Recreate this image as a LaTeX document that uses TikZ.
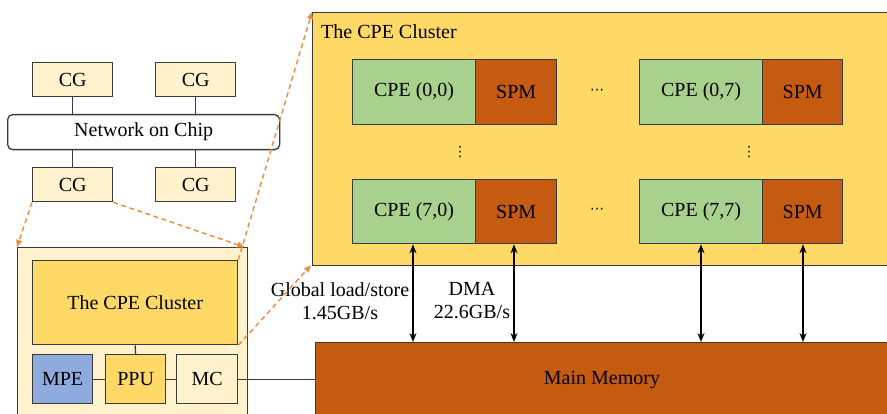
\documentclass[tikz,border=0pt]{standalone}
\usepackage{fontspec}
\setmainfont{Liberation Serif}
\newfontfamily\dejav{DejaVu Sans}
\usetikzlibrary{arrows.meta}
\definecolor{lightY}{HTML}{FFF2CC}
\definecolor{goldY}{HTML}{FFD966}
\definecolor{cgreen}{HTML}{A9D18E}
\definecolor{rust}{HTML}{C55A11}
\definecolor{mblue}{HTML}{8FAADC}
\definecolor{dashor}{HTML}{F08A3E}
\definecolor{edge}{HTML}{3A3A3A}
\tikzset{
  box/.style={draw=edge, line width=1.3pt, inner sep=0pt, anchor=north west, font=\fontsize{20}{23}\selectfont},
  link/.style={draw=edge, line width=1.3pt},
  zoomline/.style={draw=dashor, line width=1.4pt, dash pattern=on 5pt off 3.5pt, -{Triangle[length=7pt,width=6pt]}},
  bus/.style={draw=black, line width=2pt, {Stealth[length=9pt,width=7pt]}-{Stealth[length=9pt,width=7pt]}},
  lbl/.style={font=\fontsize{20}{23}\selectfont, inner sep=0pt},
  dotlbl/.style={font=\dejav\fontsize{14}{16}\selectfont, inner sep=0pt}
}
\begin{document}
\begin{tikzpicture}[x=1pt,y=-1pt]
\useasboundingbox (0,0) rectangle (887,414);
\clip (0,0) rectangle (887,414);
\fill[white] (0,0) rectangle (887,414);
% big cluster
\node[box, fill=goldY, minimum width=580, minimum height=253] (cl) at (312,12) {};
\node[lbl, anchor=west] (cltitle) at (321,32) {The CPE Cluster};
% CPE rows
\node[box, fill=cgreen, minimum width=123, minimum height=65] (c00) at (352,59) {CPE (0,0)};
\node[box, fill=rust, minimum width=81, minimum height=65] (s00) at (475,59) {SPM};
\node[box, fill=cgreen, minimum width=123, minimum height=65] (c07) at (639,59) {CPE (0,7)};
\node[box, fill=rust, minimum width=80, minimum height=65] (s07) at (762,59) {SPM};
\node[box, fill=cgreen, minimum width=123, minimum height=64] (c70) at (352,179) {CPE (7,0)};
\node[box, fill=rust, minimum width=81, minimum height=64] (s70) at (475,179) {SPM};
\node[box, fill=cgreen, minimum width=123, minimum height=64] (c77) at (639,179) {CPE (7,7)};
\node[box, fill=rust, minimum width=80, minimum height=64] (s77) at (762,179) {SPM};
\node[dotlbl] (h1) at (597,92) {⋯};
\node[dotlbl] (h2) at (597,211) {⋯};
\node[dotlbl] (v1) at (460,152) {⋮};
\node[dotlbl] (v2) at (749,152) {⋮};
% main memory
\node[box, fill=rust, minimum width=580, minimum height=78] (mem) at (315,342) {};
\node[lbl] (memt) at (602,380) {Main Memory};
% buses
\coordinate (b1) at (413,0); \coordinate (b2) at (514,0);
\coordinate (b3) at (701,0); \coordinate (b4) at (803,0);
\draw[bus] (c70.south -| b1) -- (mem.north -| b1);
\draw[bus] (s70.south -| b2) -- (mem.north -| b2);
\draw[bus] (c77.south -| b3) -- (mem.north -| b3);
\draw[bus] (s77.south -| b4) -- (mem.north -| b4);
\node[lbl, align=center] (gl) at (340,301) {Global load/store\\[0pt]1.45GB/s};
\node[lbl, align=center] (dma) at (472,301) {DMA\\[0pt]22.6GB/s};
% left chip
\node[box, fill=lightY, minimum width=80, minimum height=34] (cg1) at (32,62) {CG};
\node[box, fill=lightY, minimum width=80, minimum height=34] (cg2) at (155,62) {CG};
\node[box, fill=white, rounded corners=5pt, minimum width=272, minimum height=35] (noc) at (7,114) {Network on Chip};
\node[box, fill=lightY, minimum width=80, minimum height=34] (cg3) at (32,167) {CG};
\node[box, fill=lightY, minimum width=80, minimum height=34] (cg4) at (155,167) {CG};
\draw[link] (cg1.south) -- (cg1.south |- noc.north);
\draw[link] (cg2.south) -- (cg2.south |- noc.north);
\draw[link] (cg3.north) -- (cg3.north |- noc.south);
\draw[link] (cg4.north) -- (cg4.north |- noc.south);
% core group detail
\node[box, fill=lightY, minimum width=230, minimum height=180] (cgd) at (17,247) {};
\node[box, fill=goldY, minimum width=205, minimum height=84] (icl) at (32,260) {The CPE Cluster};
\node[box, fill=mblue, minimum width=60, minimum height=49] (mpe) at (32,354) {MPE};
\node[box, fill=goldY, minimum width=60, minimum height=49] (ppu) at (105,354) {PPU};
\node[box, fill=lightY, minimum width=61, minimum height=49] (mc) at (176,354) {MC};
\draw[link] (mpe) -- (ppu);
\draw[link] (ppu) -- (mc);
\draw[link] (icl.south) -- (ppu.north);
\draw[link] (mc.east) -- (mc.east -| mem.west);
% zoom lines
\draw[zoomline] (cg3.south west) -- (cgd.north west);
\draw[zoomline] (cg3.south east) -- ([xshift=-4pt]cgd.north east);
\draw[zoomline] (icl.north east) -- (cl.north west);
\draw[zoomline] (icl.south east) -- ([xshift=-1pt,yshift=1pt]cl.south west);
\end{tikzpicture}
\end{document}
